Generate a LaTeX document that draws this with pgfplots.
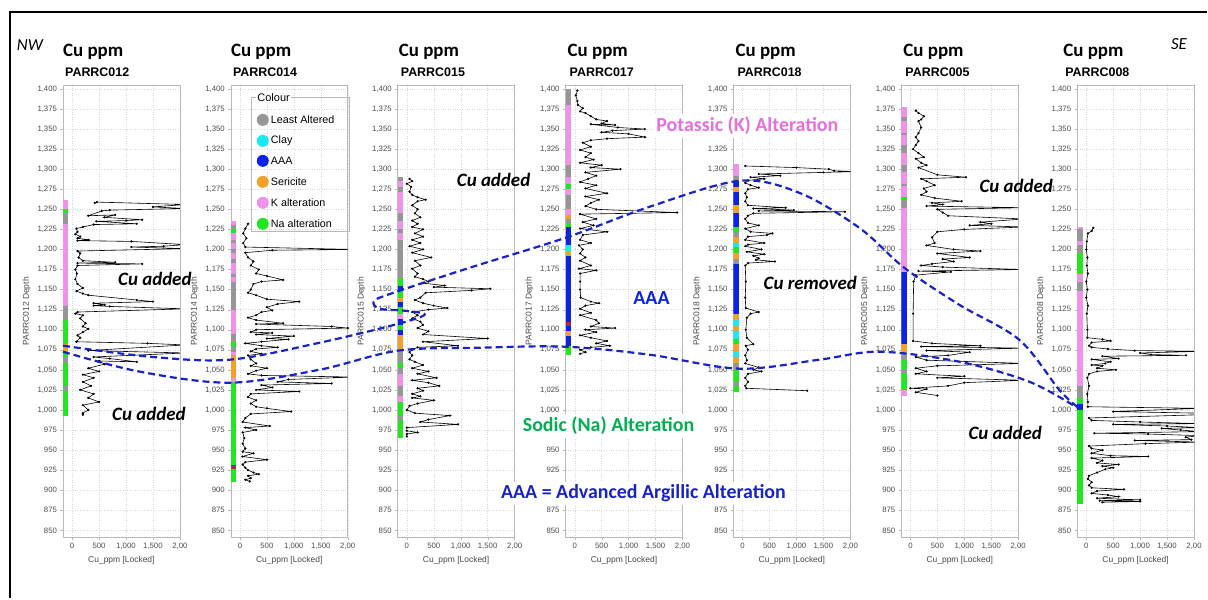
\documentclass[border=0pt]{standalone}
\usepackage{pgfplots}
\pgfplotsset{compat=1.18}
\usepackage{fontspec}
\setmainfont{Liberation Sans}
\newfontfamily\calfont{Carlito}

\definecolor{LA}{RGB}{150,150,150}
\definecolor{CL}{RGB}{20,235,245}
\definecolor{AA}{RGB}{10,35,230}
\definecolor{SE}{RGB}{245,160,40}
\definecolor{KA}{RGB}{240,145,235}
\definecolor{NA}{RGB}{35,230,35}
\definecolor{DR}{RGB}{170,40,80}
\definecolor{dashblue}{RGB}{25,35,195}
\definecolor{kpink}{RGB}{232,110,222}
\definecolor{nagreen}{RGB}{0,176,80}
\definecolor{tickgray}{RGB}{75,75,75}
\definecolor{labgray}{RGB}{70,70,70}
\definecolor{framegray}{RGB}{185,185,185}
\definecolor{gridgray}{RGB}{215,215,215}

% one coloured interval of the alteration strip
\newcommand{\seg}[3]{\addplot[forget plot, line width=5.5bp, color=#1] coordinates {(-118,#2) (-118,#3)};}

\pgfplotsset{
  panel/.style={
    scale only axis, width=117bp, height=453bp, anchor=south west,
    xmin=-170, xmax=2000, ymin=841, ymax=1405,
    xtick={0,500,1000,1500,2000}, xticklabels={0,500,{1,000},{1,500},{2,00}},
    ytick={850,875,...,1400},
    scaled x ticks=false, scaled y ticks=false,
    /pgf/number format/assume math mode=true,
    tick label style={font=\fontsize{7.8}{8}\selectfont, text=tickgray},
    label style={font=\fontsize{8.5}{10}\selectfont, text=labgray},
    xlabel={Cu\_ppm [Locked]},
    axis line style={framegray, line width=0.6bp},
    tick style={framegray},
    tick align=outside, major tick length=2.5bp,
    xtick pos=bottom, ytick pos=left,
    grid=major, grid style={gridgray, dotted, line width=0.4bp},
  },
  cu/.style={black, line width=0.6bp, mark=*, mark size=0.8bp, forget plot},
}

\begin{document}
\begin{tikzpicture}
\path (0,0) rectangle (1208bp,599bp);

% ---------------- PARRC012
\begin{axis}[panel, at={(63bp,61bp)}, ylabel={PARRC012 Depth}]
\seg{KA}{1262}{1250}\seg{NA}{1250}{1245}\seg{LA}{1245}{1232}\seg{KA}{1232}{1130}
\seg{LA}{1130}{1112}\seg{NA}{1112}{1082}\seg{SE}{1082}{1072}\seg{NA}{1072}{1066}
\seg{LA}{1066}{1058}\seg{NA}{1058}{1030}\seg{LA}{1030}{1024}\seg{NA}{1024}{993}
\addplot[cu] coordinates {
(420,1258) (460,1259) (2100,1256) (1500,1253) (2100,1251) (700,1249) (550,1248)
(300,1242) (800,1243) (600,1240) (1300,1237) (1000,1236) (450,1235) (1200,1232)
(400,1231) (200,1228) (80,1226) (100,1222) (60,1219) (150,1216) (100,1214) (300,1212)
(100,1211) (1100,1210) (2100,1206) (1700,1204) (1100,1203) (2100,1201) (100,1198)
(150,1195) (120,1190) (200,1186) (800,1184) (100,1183) (1300,1182) (100,1180)
(60,1175) (90,1170) (60,1163) (100,1157) (200,1152) (80,1148) (200,1145) (300,1143)
(1200,1137) (1500,1135) (400,1133) (600,1131) (400,1130) (700,1129) (2100,1126)
(100,1122) (60,1120) (200,1118) (150,1114) (250,1108) (200,1104) (300,1101)
(200,1097) (100,1093) (150,1090) (80,1085) (1400,1083) (2100,1081) (300,1074)
(2100,1071) (400,1066) (700,1064) (1200,1060) (500,1061) (600,1057) (300,1052)
(500,1048) (200,1044) (400,1040) (200,1035) (350,1030) (150,1025) (400,1020)
(300,1015) (500,1010) (200,1006) (300,1000) (200,996) (200,994)};
\end{axis}

% ---------------- PARRC014
\begin{axis}[panel, at={(231bp,61bp)}, ylabel={PARRC014 Depth}]
\seg{KA}{1235}{1230}\seg{LA}{1230}{1225}\seg{NA}{1225}{1220}\seg{KA}{1220}{1212}
\seg{LA}{1212}{1208}\seg{KA}{1208}{1200}\seg{LA}{1200}{1196}\seg{KA}{1196}{1188}
\seg{LA}{1188}{1183}\seg{KA}{1183}{1170}\seg{LA}{1170}{1166}\seg{KA}{1166}{1160}
\seg{LA}{1160}{1125}\seg{KA}{1125}{1095}\seg{LA}{1095}{1085}\seg{NA}{1085}{1078}
\seg{LA}{1078}{1072}\seg{KA}{1072}{1068}\seg{SE}{1068}{1040}\seg{KA}{1040}{1035}
\seg{NA}{1035}{931}\seg{DR}{931}{927}\seg{NA}{927}{910}
\addplot[cu] coordinates {
(150,1232) (100,1226) (60,1220) (120,1214) (60,1208) (100,1203) (2100,1200)
(600,1199) (100,1196) (150,1190) (250,1185) (200,1180) (350,1175) (300,1170)
(500,1167) (800,1162) (400,1160) (250,1157) (200,1150) (150,1146) (300,1143)
(500,1138) (1100,1135) (700,1132) (500,1128) (600,1124) (400,1122) (300,1118)
(150,1115) (300,1112) (800,1108) (300,1107) (1700,1104) (2000,1102) (300,1100)
(200,1097) (600,1096) (300,1094) (1000,1092) (500,1089) (900,1088) (400,1085)
(100,1083) (400,1080) (700,1078) (300,1076) (200,1073) (400,1070) (150,1068)
(200,1063) (300,1058) (200,1055) (500,1052) (300,1049) (150,1045) (400,1043)
(2100,1041) (900,1038) (700,1035) (1700,1033) (400,1031) (600,1028) (300,1025)
(1100,1023) (200,1020) (150,1016) (300,1012) (200,1008) (300,1004) (500,1002)
(950,998) (200,995) (100,990) (50,985) (550,980) (100,978) (300,975) (50,972)
(80,965) (50,958) (100,952) (50,948) (250,946) (50,942) (500,938) (100,935)
(50,932) (100,928) (150,925) (250,922) (350,920) (150,918) (200,915) (100,913)
(180,911)};
\end{axis}

% ---------------- PARRC015
\begin{axis}[panel, at={(398bp,61bp)}, ylabel={PARRC015 Depth}]
\seg{LA}{1290}{1285}\seg{KA}{1285}{1278}\seg{LA}{1278}{1272}\seg{KA}{1272}{1245}
\seg{LA}{1245}{1235}\seg{KA}{1235}{1225}\seg{LA}{1225}{1220}\seg{KA}{1220}{1212}
\seg{LA}{1212}{1165}\seg{NA}{1165}{1155}\seg{AA}{1155}{1150}\seg{NA}{1150}{1140}
\seg{SE}{1140}{1135}\seg{AA}{1135}{1128}\seg{NA}{1128}{1120}\seg{KA}{1120}{1113}
\seg{AA}{1113}{1106}\seg{NA}{1106}{1100}\seg{AA}{1100}{1093}\seg{SE}{1093}{1075}
\seg{LA}{1075}{1058}\seg{NA}{1058}{1052}\seg{LA}{1052}{1045}\seg{KA}{1045}{1030}
\seg{LA}{1030}{1018}\seg{KA}{1018}{1010}\seg{NA}{1010}{992}\seg{LA}{992}{988}
\seg{NA}{988}{965}
\addplot[cu] coordinates {
(50,1288) (100,1285) (0,1282) (80,1278) (50,1272) (100,1268) (200,1265) (350,1262)
(200,1260) (100,1255) (200,1250) (150,1245) (250,1240) (100,1236) (200,1232)
(100,1228) (300,1225) (150,1220) (300,1216) (100,1212) (250,1208) (50,1204)
(300,1200) (100,1196) (450,1190) (150,1186) (250,1180) (100,1176) (200,1170)
(150,1166) (300,1163) (400,1160) (300,1158) (700,1155) (500,1153) (1550,1151)
(1200,1149) (350,1146) (250,1140) (150,1137) (300,1133) (500,1130) (750,1127)
(400,1125) (100,1122) (200,1118) (100,1114) (250,1110) (300,1106) (200,1102)
(400,1098) (300,1094) (1500,1089) (300,1085) (950,1080) (200,1078) (100,1075)
(50,1072) (100,1068) (50,1063) (150,1060) (300,1056) (100,1052) (400,1048)
(200,1045) (550,1040) (100,1037) (400,1034) (600,1030) (200,1027) (300,1024)
(100,1020) (250,1017) (100,1015) (500,1012) (200,1008) (50,1005) (0,1000)
(150,996) (800,993) (400,988) (250,985) (950,982) (0,978) (0,974) (200,972)
(0,970) (0,967)};
\end{axis}

% ---------------- PARRC017
\begin{axis}[panel, at={(566bp,61bp)}, ylabel={PARRC017 Depth}]
\seg{LA}{1400}{1380}\seg{KA}{1380}{1305}\seg{LA}{1305}{1290}\seg{KA}{1290}{1282}
\seg{NA}{1282}{1275}\seg{KA}{1275}{1268}\seg{LA}{1268}{1250}\seg{KA}{1250}{1243}
\seg{SE}{1243}{1238}\seg{LA}{1238}{1232}\seg{NA}{1232}{1228}\seg{AA}{1228}{1205}
\seg{CL}{1205}{1198}\seg{SE}{1198}{1192}\seg{AA}{1192}{1110}\seg{DR}{1110}{1105}
\seg{AA}{1105}{1098}\seg{SE}{1098}{1092}\seg{AA}{1092}{1080}\seg{NA}{1080}{1068}
\addplot[cu] coordinates {
(50,1398) (20,1392) (50,1385) (60,1380) (150,1376) (100,1372) (200,1370) (300,1366)
(400,1362) (600,1360) (500,1357) (750,1355) (300,1356) (800,1352) (1300,1350)
(700,1348) (500,1346) (1000,1344) (1300,1340) (600,1338) (300,1336) (150,1333)
(300,1328) (100,1324) (300,1320) (200,1315) (350,1312) (100,1308) (500,1305)
(300,1302) (850,1300) (200,1296) (400,1292) (250,1288) (100,1284) (400,1280)
(200,1276) (600,1270) (200,1266) (450,1262) (300,1258) (200,1254) (400,1250)
(1900,1246) (100,1244) (400,1238) (150,1234) (350,1230) (100,1226) (600,1222)
(150,1218) (100,1212) (300,1208) (80,1205) (150,1200) (100,1195) (200,1190)
(100,1186) (300,1180) (80,1176) (400,1174) (100,1170) (100,1160) (100,1150)
(110,1140) (300,1135) (450,1133) (200,1130) (100,1126) (300,1121) (100,1118)
(400,1112) (450,1108) (300,1104) (750,1102) (200,1100) (400,1097) (100,1093)
(300,1090) (600,1086) (400,1083) (650,1080) (300,1078) (100,1075) (200,1072)
(100,1070)};
\end{axis}

% ---------------- PARRC018
\begin{axis}[panel, at={(734bp,61bp)}, ylabel={PARRC018 Depth}]
\seg{KA}{1307}{1292}\seg{LA}{1292}{1285}\seg{AA}{1285}{1278}\seg{SE}{1278}{1272}
\seg{AA}{1272}{1255}\seg{SE}{1255}{1245}\seg{AA}{1245}{1228}\seg{NA}{1228}{1222}
\seg{LA}{1222}{1215}\seg{SE}{1215}{1208}\seg{CL}{1208}{1203}\seg{NA}{1203}{1196}
\seg{SE}{1196}{1188}\seg{LA}{1188}{1182}\seg{AA}{1182}{1120}\seg{SE}{1120}{1112}
\seg{CL}{1112}{1105}\seg{SE}{1105}{1098}\seg{CL}{1098}{1088}\seg{NA}{1088}{1082}
\seg{SE}{1082}{1072}\seg{CL}{1072}{1066}\seg{SE}{1066}{1058}\seg{LA}{1058}{1050}
\seg{NA}{1050}{1035}\seg{LA}{1035}{1030}\seg{NA}{1030}{1022}
\addplot[cu] coordinates {
(50,1304) (1000,1302) (1600,1300) (1700,1298) (2100,1297) (1500,1296) (300,1294)
(700,1292) (150,1290) (400,1288) (100,1286) (50,1283) (150,1280) (300,1277)
(100,1275) (50,1270) (80,1265) (50,1260) (100,1255) (800,1252) (200,1251)
(950,1249) (300,1248) (1900,1247) (200,1245) (100,1242) (50,1238) (100,1233)
(300,1230) (50,1226) (150,1222) (550,1220) (450,1218) (100,1216) (50,1212)
(400,1208) (100,1206) (50,1204) (350,1200) (80,1197) (400,1194) (200,1192)
(300,1189) (250,1187) (600,1185) (100,1183) (50,1180) (60,1160) (50,1140)
(60,1127) (300,1122) (150,1120) (80,1115) (60,1100) (80,1090) (200,1082) (60,1080)
(100,1075) (50,1068) (80,1062) (50,1058) (300,1053) (200,1050) (350,1048)
(100,1045) (50,1040) (100,1035) (50,1030) (70,1027) (1200,1024)};
\end{axis}

% ---------------- PARRC005
\begin{axis}[panel, at={(902bp,61bp)}, ylabel={PARRC005 Depth}]
\seg{KA}{1377}{1365}\seg{LA}{1365}{1360}\seg{KA}{1360}{1345}\seg{LA}{1345}{1342}
\seg{KA}{1342}{1330}\seg{LA}{1330}{1320}\seg{KA}{1320}{1305}\seg{LA}{1305}{1297}
\seg{KA}{1297}{1282}\seg{LA}{1282}{1279}\seg{KA}{1279}{1265}\seg{NA}{1265}{1261}
\seg{LA}{1261}{1252}\seg{KA}{1252}{1172}\seg{AA}{1172}{1082}\seg{SE}{1082}{1072}
\seg{LA}{1072}{1062}\seg{NA}{1062}{1050}\seg{LA}{1050}{1045}\seg{NA}{1045}{1025}
\seg{KA}{1025}{1018}
\addplot[cu] coordinates {
(100,1373) (150,1370) (250,1366) (200,1362) (150,1360) (200,1352) (150,1345)
(100,1340) (150,1335) (100,1330) (50,1325) (150,1320) (250,1315) (100,1313)
(200,1308) (300,1305) (150,1302) (500,1293) (1030,1290) (200,1288) (300,1285)
(450,1280) (250,1276) (300,1272) (200,1268) (450,1264) (950,1260) (400,1258)
(600,1256) (300,1254) (2100,1252) (500,1250) (600,1246) (700,1242) (2100,1238)
(1300,1234) (1500,1232) (1100,1230) (2100,1228) (1000,1225) (500,1222) (400,1215)
(450,1208) (300,1205) (800,1200) (1300,1198) (500,1195) (1100,1190) (600,1188)
(800,1185) (400,1182) (200,1180) (600,1178) (2100,1175) (150,1173) (750,1172)
(100,1168) (60,1160) (50,1120) (50,1086) (400,1083) (1300,1080) (200,1079)
(2100,1077) (300,1074) (1100,1072) (700,1068) (100,1066) (300,1062) (2100,1058)
(500,1055) (100,1052) (300,1048) (100,1045) (1000,1042) (500,1040) (2100,1037)
(1000,1034) (700,1030) (0,1027) (300,1026) (100,1022) (500,1018)};
\end{axis}

% ---------------- PARRC008
\begin{axis}[panel, at={(1078bp,61bp)}, ylabel={PARRC008 Depth}]
\seg{KA}{1228}{1225}\seg{LA}{1225}{1210}\seg{KA}{1210}{1205}\seg{LA}{1205}{1195}
\seg{NA}{1195}{1170}\seg{KA}{1170}{1160}\seg{LA}{1160}{1148}\seg{KA}{1148}{1030}
\seg{LA}{1030}{1015}\seg{NA}{1015}{1008}\seg{AA}{1008}{1000}\seg{NA}{1000}{883}
\addplot[cu] coordinates {
(130,1227) (100,1223) (30,1220) (10,1210) (0,1200) (20,1190) (10,1180) (30,1170)
(0,1160) (20,1150) (0,1140) (30,1130) (10,1120) (20,1100) (20,1090) (300,1088)
(450,1086) (100,1084) (50,1080) (100,1078) (400,1076) (900,1074) (2100,1073)
(1000,1071) (1200,1069) (1850,1068) (300,1067) (600,1064) (100,1063) (450,1060)
(350,1058) (100,1056) (300,1055) (200,1052) (550,1050) (200,1048) (50,1045)
(20,1040) (50,1030) (20,1020) (30,1010) (30,1004) (2100,1002) (500,998) (2100,996)
(2100,994) (50,990) (100,987) (1000,985) (2100,983) (500,982) (1500,980)
(2100,978) (1400,977) (1750,975) (2100,973) (150,971) (1150,970) (2100,968)
(1850,966) (1950,963) (900,962) (2100,960) (1100,958) (50,955) (100,952)
(300,950) (100,946) (450,943) (1150,942) (100,940) (300,937) (200,934) (600,932)
(300,930) (500,928) (350,926) (200,922) (50,918) (30,914) (100,910) (50,906)
(100,903) (700,901) (200,899) (100,896) (400,894) (600,892) (200,890) (1000,888)
(250,887) (1000,886) (300,885)};
\end{axis}

% ---------------- annotations, in pixel units of the reference
\begin{scope}[x=1bp, y=-1bp, yshift=599bp]
\draw[line width=2bp] (10,599) -- (10,12) -- (1208,12);

\foreach \x/\n in {63/012, 231/014, 399/015, 568/017, 736/018, 904/005, 1064/008} {
  \node[anchor=west, inner sep=0pt, font=\calfont\bfseries\fontsize{19}{20}\selectfont] at (\x,52) {Cu ppm};
  \node[anchor=west, inner sep=0pt, font=\bfseries\fontsize{12.5}{14}\selectfont] at (\x+2,72) {PARRC\n};
}
\node[font=\calfont\itshape\fontsize{17}{18}\selectfont] at (30,45) {NW};
\node[font=\calfont\itshape\fontsize{17}{18}\selectfont] at (1180,44) {SE};

% legend
\draw[framegray, line width=0.8bp] (252,97) rectangle (350,232);
\node[anchor=west, fill=white, inner sep=1.5bp, font=\fontsize{11}{12}\selectfont] at (256,98) {Colour};
\foreach \c/\t/\y in {LA/Least Altered/120, CL/Clay/141, AA/AAA/161, SE/Sericite/182, KA/K alteration/203, NA/Na alteration/224} {
  \fill[\c] (263,\y) circle (6bp);
  \node[anchor=west, inner sep=0pt, font=\fontsize{10.8}{12}\selectfont] at (271,\y) {\t};
}

% dashed boundaries of the AAA body
\draw[dashblue, line width=2.2bp, dash pattern=on 7bp off 4bp] plot[smooth, tension=0.55] coordinates {
(63,346) (150,357) (230,360) (320,343) (395,325) (425,315) (405,311) (380,309)
(374,302) (388,295) (470,268) (566,238) (650,207) (740,181) (800,193) (860,228)
(905,268) (960,305) (1020,340) (1060,390) (1078,407)};
\draw[dashblue, line width=2.2bp, dash pattern=on 7bp off 4bp] plot[smooth, tension=0.55] coordinates {
(63,352) (140,372) (230,383) (320,370) (398,351) (480,348) (566,347) (650,355)
(740,369) (820,360) (880,352) (960,362) (1030,382) (1078,408)};

\begin{scope}[font=\calfont\bfseries\itshape\fontsize{19}{20}\selectfont]
\node at (155,279) {Cu added};
\node at (149,414) {Cu added};
\node at (494,180) {Cu added};
\node at (1017,186) {Cu added};
\node at (1006,433) {Cu added};
\node at (811,283) {Cu removed};
\end{scope}
\begin{scope}[font=\calfont\bfseries\fontsize{20}{22}\selectfont]
\node[text=AA] at (652,298) {AAA};
\node[text=kpink, fill=white, inner sep=3bp] at (748,126) {Potassic (K) Alteration};
\node[text=nagreen, fill=white, inner sep=3bp] at (609,426) {Sodic (Na) Alteration};
\node[text=dashblue, fill=white, inner sep=3bp] at (644,494) {AAA = Advanced Argillic Alteration};
\end{scope}
\end{scope}
\end{tikzpicture}
\end{document}
